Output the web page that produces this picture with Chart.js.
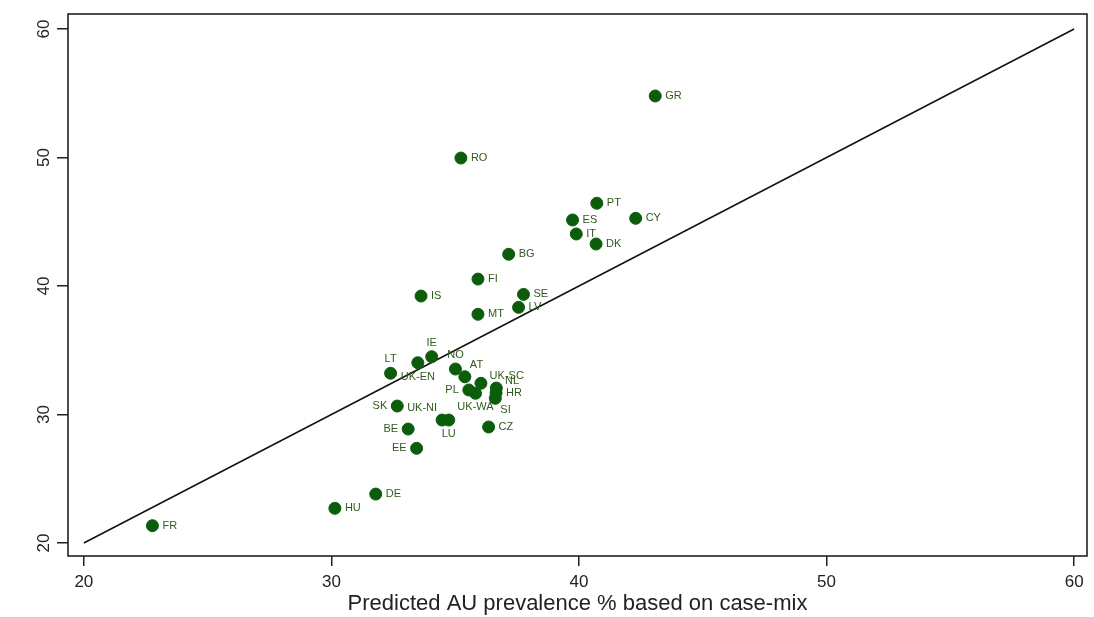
<!DOCTYPE html>
<html lang="en">
<head>
  <meta charset="UTF-8" />
  <title>Observed vs predicted AU prevalence</title>
  <script src="https://cdn.jsdelivr.net/npm/chart.js"></script>
  <style>
    html, body { margin: 0; padding: 0; background: #fff; overflow: hidden; }
    .chart-box { width: 1094px; height: 617px; position: relative; }
    canvas { display: block; }
  </style>
</head>
<body>
  <div class="chart-box">
    <canvas id="auChart"></canvas>
  </div>

  <script>
    // country codes, predicted (x) and observed (y) AU prevalence %
    const countries = ['GR', 'RO', 'PT', 'CY', 'ES', 'IT', 'DK', 'BG', 'FI', 'IS', 'SE',
      'LV', 'MT', 'IE', 'LT', 'UK-EN', 'NO', 'AT', 'UK-SC', 'PL', 'UK-WA', 'NL', 'HR',
      'SI', 'SK', 'UK-NI', 'LU', 'BE', 'EE', 'CZ', 'DE', 'HU', 'FR'];
    const predicted = [43.08, 35.23, 40.72, 42.29, 39.74, 39.89, 40.69, 37.16, 35.92, 33.62, 37.76,
      37.56, 35.92, 34.05, 32.39, 33.49, 35.01, 35.39, 36.04, 35.55, 35.82, 36.66, 36.65,
      36.62, 32.66, 34.47, 34.74, 33.10, 33.44, 36.35, 31.79, 30.14, 22.77];
    const observed = [54.79, 49.96, 46.44, 45.27, 45.14, 44.05, 43.27, 42.47, 40.54, 39.22, 39.35,
      38.34, 37.80, 34.50, 33.21, 34.03, 33.54, 32.94, 32.43, 31.91, 31.65, 32.06, 31.67,
      31.26, 30.66, 29.57, 29.57, 28.87, 27.37, 29.03, 23.81, 22.70, 21.35];
    // where each label sits around its marker (clock position, like Stata)
    const labelClock = [3, 3, 3, 3, 3, 3, 3, 3, 3, 3, 3,
      3, 3, 12, 12, 6, 12, 1, 2, 9, 6, 2, 3,
      5, 9, 11, 6, 9, 9, 3, 3, 3, 3];
    const refLine = [20, 60];
    const tickValues = [20, 30, 40, 50, 60];

    const points = countries.map((c, i) => ({ x: predicted[i], y: observed[i] }));
    const linePts = refLine.map(v => ({ x: v, y: v }));

    const framePlugin = {
      id: 'frame',
      afterDraw(chart) {
        const { ctx, chartArea: a } = chart;
        ctx.save();
        ctx.strokeStyle = '#222';
        ctx.lineWidth = 1.6;
        ctx.strokeRect(a.left, a.top, a.right - a.left, a.bottom - a.top);
        ctx.restore();
      }
    };

    const labelPlugin = {
      id: 'pointLabels',
      afterDatasetsDraw(chart) {
        const ctx = chart.ctx;
        const meta = chart.getDatasetMeta(0);
        ctx.save();
        ctx.font = '11px "Liberation Sans", Arial, sans-serif';
        ctx.fillStyle = '#2f5a1c';
        ctx.textBaseline = 'middle';
        meta.data.forEach((pt, i) => {
          const ang = labelClock[i] * Math.PI / 6;
          const dx = Math.sin(ang) * 10;
          const dy = -Math.cos(ang) * 14;
          ctx.textAlign = dx > 1 ? 'left' : (dx < -1 ? 'right' : 'center');
          ctx.fillText(countries[i], pt.x + dx, pt.y + dy);
        });
        ctx.restore();
      }
    };

    const axisFont = { family: '"Liberation Sans", Arial, sans-serif', size: 17 };

    new Chart(document.getElementById('auChart'), {
      type: 'scatter',
      data: {
        datasets: [
          {
            label: 'Countries',
            data: points,
            backgroundColor: '#0b5d0b',
            borderColor: '#0b5d0b',
            borderWidth: 1,
            pointRadius: 6,
            pointHoverRadius: 6
          },
          {
            label: 'y = x',
            data: linePts,
            showLine: true,
            borderColor: '#111',
            borderWidth: 1.5,
            pointRadius: 0,
            fill: false
          }
        ]
      },
      options: {
        responsive: true,
        maintainAspectRatio: false,
        animation: false,
        layout: { padding: { top: 14, right: 3, left: 0, bottom: 0 } },
        plugins: {
          legend: { display: false },
          tooltip: { enabled: false }
        },
        scales: {
          x: {
            type: 'linear',
            min: 19.36,
            max: 60.52,
            afterBuildTicks: s => { s.ticks = tickValues.map(v => ({ value: v })); },
            afterFit: s => { s.height = 61; s.paddingLeft = 0; s.paddingRight = 0; },
            grid: { drawOnChartArea: false, drawTicks: true, tickLength: 10, color: '#222', lineWidth: 1.5 },
            border: { display: false },
            ticks: { font: axisFont, color: '#222', padding: 6, maxRotation: 0 },
            title: {
              display: true,
              text: 'Predicted AU prevalence % based on case-mix',
              font: { family: '"Liberation Sans", Arial, sans-serif', size: 22 },
              color: '#222',
              padding: { top: 0, bottom: 0 }
            }
          },
          y: {
            type: 'linear',
            min: 18.99,
            max: 61.17,
            afterBuildTicks: s => { s.ticks = tickValues.map(v => ({ value: v })); },
            afterFit: s => { s.width = 68; s.paddingTop = 0; s.paddingBottom = 0; },
            grid: { drawOnChartArea: false, drawTicks: true, tickLength: 11, color: '#222', lineWidth: 1.5 },
            border: { display: false },
            ticks: { font: axisFont, color: '#222', padding: 3, minRotation: 90, maxRotation: 90, crossAlign: 'center' }
          }
        }
      },
      plugins: [framePlugin, labelPlugin]
    });
  </script>
</body>
</html>
